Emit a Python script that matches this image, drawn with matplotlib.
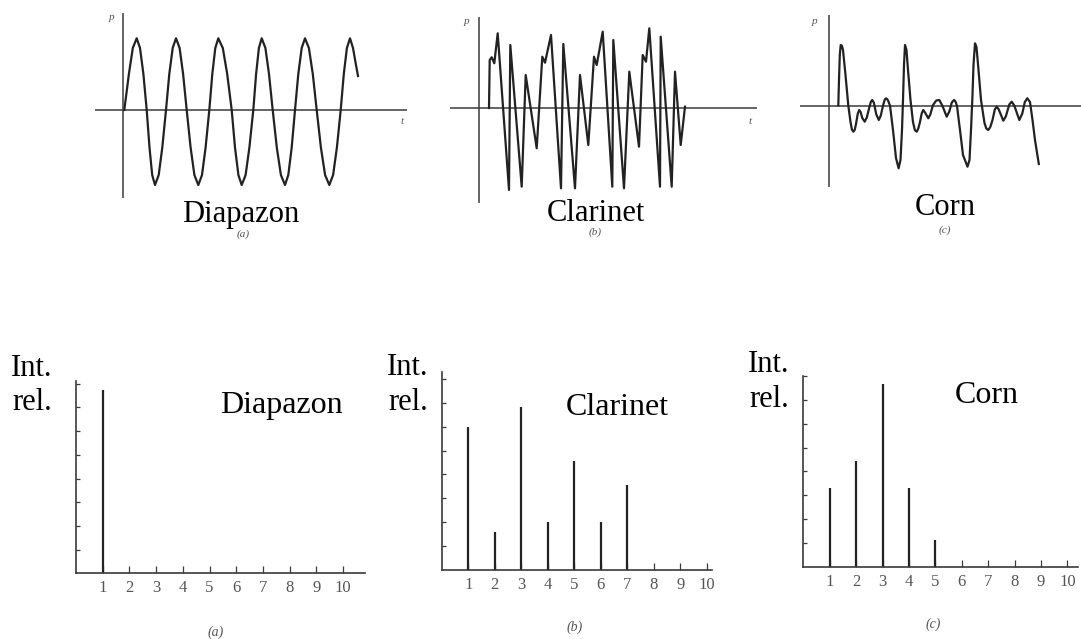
# -*- coding: utf-8 -*-
import matplotlib
matplotlib.use('Agg')
import matplotlib.pyplot as plt

# ---- waveforms (t, p in arbitrary units) ----
diap_t = [0.1, 0.56, 0.95, 1.34, 1.67, 2.01, 2.34, 2.62, 2.89, 3.17, 3.54, 3.9, 4.27,
          4.6, 4.94, 5.27, 5.63, 5.98, 6.34, 6.73, 7.11, 7.5, 7.87, 8.23, 8.6,
          8.9, 9.2, 9.5, 9.95, 10.39, 10.84, 11.17, 11.51, 11.84, 12.23, 12.61, 13.0,
          13.28, 13.56, 13.84, 14.21, 14.57, 14.94, 15.35, 15.76, 16.17, 16.5, 16.84, 17.17,
          17.5, 17.84, 18.17, 18.56, 18.95, 19.34, 19.76, 20.18, 20.6, 20.98, 21.36, 21.74,
          22.05, 22.36, 22.67, 22.97, 23.25, 23.47]
diap_p = [0, 3.6, 6.2, 7.17, 6.2, 3.6, 0, -3.75, -6.5, -7.5, -6.5, -3.75, 0,
          3.6, 6.2, 7.17, 6.2, 3.6, 0, -3.75, -6.5, -7.5, -6.5, -3.75, 0,
          3.6, 6.2, 7.17, 6.2, 3.6, 0, -3.75, -6.5, -7.5, -6.5, -3.75, 0,
          3.6, 6.2, 7.17, 6.2, 3.6, 0, -3.75, -6.5, -7.5, -6.5, -3.75, 0,
          3.6, 6.2, 7.17, 6.2, 3.6, 0, -3.75, -6.5, -7.5, -6.5, -3.75, 0,
          3.6, 6.2, 7.17, 6.2, 4.6, 3.4]

clar_t = [1.05, 1.12, 1.32, 1.58, 1.92, 3.05, 3.18, 4.32, 4.72, 5.82, 6.38, 6.65,
          7.25, 8.25, 8.48, 9.65, 10.15, 10.98, 11.55, 11.82, 12.42, 13.38, 13.48,
          14.55, 15.08, 16.05, 16.42, 16.75, 17.08, 18.15, 18.22, 19.32, 19.65, 20.22, 20.65]
clar_p = [0, 4.8, 5.07, 4.47, 7.47, -8.2, 6.3, -7.87, 3.3, -4.03, 5.13, 4.53,
          7.3, -8.03, 6.4, -8.03, 3.3, -3.7, 5.13, 4.3, 7.63, -7.87, 6.8,
          -8.03, 3.63, -3.87, 5.3, 4.63, 7.97, -7.87, 7.13, -7.87, 3.63, -3.7, 0.13]

corn_t = [0.9, 0.97, 1.05, 1.14, 1.27, 1.37, 1.62, 1.9, 2.12, 2.26, 2.4, 2.54, 2.67,
          2.85, 2.99, 3.13, 3.3, 3.54, 3.75, 4.0, 4.15, 4.29, 4.45, 4.7, 4.95, 5.15,
          5.4, 5.55, 5.69, 5.85, 6.07, 6.37, 6.67, 6.93, 7.12, 7.27, 7.37, 7.47, 7.57,
          7.72, 7.87, 8.12, 8.37, 8.55, 8.74, 8.9, 9.07, 9.25, 9.4, 9.6, 9.9, 10.1,
          10.37, 10.7, 11.0, 11.3, 11.74, 12.0, 12.25, 12.47, 12.62, 12.77, 13.07, 13.37,
          13.82, 14.02, 14.17, 14.32, 14.42, 14.57, 14.72, 14.92, 15.17, 15.52, 15.7,
          15.9, 16.1, 16.32, 16.55, 16.74, 16.95, 17.4, 17.65, 18.0, 18.24, 18.5, 19.0,
          19.3, 19.55, 19.8, 20.07, 20.32, 20.57, 20.95]
corn_p = [0, 2.55, 5.05, 6.05, 5.95, 5.55, 3.05, 0, -1.65, -2.4, -2.62, -2.45, -1.85,
          -0.8, -0.45, -0.65, -1.25, -1.62, -1.2, -0.2, 0.35, 0.55, 0.3, -0.9, -1.45, -1.0,
          0.1, 0.6, 0.72, 0.55, 0, -2.45, -5.25, -6.28, -5.45, -2.45, 0.55, 4.05, 6.05,
          5.55, 3.55, 0.55, -1.65, -2.45, -2.62, -2.3, -1.65, -0.75, -0.45, -0.75, -1.28, -0.9,
          0.05, 0.5, 0.55, 0.0, -1.12, -0.6, 0.3, 0.55, 0.4, -0.05, -2.45, -4.95,
          -6.12, -5.45, -2.45, 1.05, 4.05, 6.22, 5.85, 3.55, 0.55, -1.75, -2.3,
          -2.45, -2.15, -1.45, -0.4, -0.12, -0.4, -1.52, -1.1, 0.1, 0.38, 0.0, -1.45,
          -0.8, 0.35, 0.72, 0.35, -1.45, -3.45, -5.85]

# ---- spectra: relative intensity of harmonics 1..10 ----
harmonics = [1, 2, 3, 4, 5, 6, 7, 8, 9, 10]
diap_int = [7.73, 0, 0, 0, 0, 0, 0, 0, 0, 0]
clar_int = [5.97, 1.58, 6.81, 2.0, 4.57, 2.0, 3.56, 0, 0, 0]
corn_int = [3.31, 4.45, 7.67, 3.31, 1.14, 0, 0, 0, 0, 0]
int_ticks = [1, 2, 3, 4, 5, 6, 7, 8]

names = ['Diapazon', 'Clarinet', 'Corn']
tags = ['(a)', '(b)', '(c)']

W, H = 1081, 639
plt.rcParams['font.family'] = ['Liberation Serif', 'DejaVu Serif']
fig = plt.figure(figsize=(W / 100, H / 100), dpi=100)
fig.patch.set_facecolor('white')

INK = '#222222'
AXC = '#3a3a3a'
SOFT = '#555555'


def box_axes(left, top, right, bottom):
    return fig.add_axes([left / W, 1 - bottom / H, (right - left) / W, (bottom - top) / H])


def ftext(x, y, s, **kw):
    fig.text(x / W, 1 - y / H, s, **kw)


# top row: pressure waveforms, 10 px per unit
PX = 10.0
wave_boxes = [(95, 13, 407, 198), (450, 17, 757, 203), (800, 15, 1081, 187)]
origins = [(123.3, 110), (478.5, 108), (829.3, 105.5)]
waves = [(diap_t, diap_p), (clar_t, clar_p), (corn_t, corn_p)]
for (l, tp, r, b), (ox, oy), (t, p) in zip(wave_boxes, origins, waves):
    ax = box_axes(l, tp, r, b)
    ax.set_xlim((l - ox) / PX, (r - ox) / PX)
    ax.set_ylim((oy - b) / PX, (oy - tp) / PX)
    ax.axis('off')
    ax.axhline(0, color=AXC, lw=1.1)
    ax.axvline(0, color=AXC, lw=1.1)
    ax.plot(t, p, color=INK, lw=1.6, solid_joinstyle='round')

ftext(241, 222, names[0], fontsize=22, ha='center', va='baseline')
ftext(596, 221, names[1], fontsize=22, ha='center', va='baseline')
ftext(945, 215, names[2], fontsize=22, ha='center', va='baseline')
for x, y, s in [(243, 234, tags[0]), (595, 232, tags[1]), (945, 230, tags[2])]:
    ftext(x, y, s, fontsize=8, style='italic', color=SOFT, ha='center', va='center')
for x, y in [(111, 18), (466, 22), (814, 21)]:
    ftext(x, y, 'p', fontsize=8, style='italic', color=SOFT, ha='center', va='center')
for x, y in [(402, 121), (750, 121)]:
    ftext(x, y, 't', fontsize=8, style='italic', color=SOFT, ha='center', va='center')

# bottom row: spectra
spec_boxes = [(76, 381, 365, 573.3), (441.7, 372, 712, 570), (803.3, 376, 1078, 566.7)]
spec_scale = [(26.7, 23.7), (26.5, 23.9), (26.4, 24.0)]
spectra = [diap_int, clar_int, corn_int]
for (l, tp, r, b), (sx, sy), vals in zip(spec_boxes, spec_scale, spectra):
    ax = box_axes(l, tp, r, b)
    ax.set_xlim(0, (r - l) / sx)
    ax.set_ylim(0, (b - tp) / sy)
    ax.set_facecolor('none')
    for s in ['top', 'right']:
        ax.spines[s].set_visible(False)
    for s in ['left', 'bottom']:
        ax.spines[s].set_color(AXC)
        ax.spines[s].set_linewidth(1.2)
    hx = [h for h, v in zip(harmonics, vals) if v > 0]
    hv = [v for v in vals if v > 0]
    ax.vlines(hx, 0, hv, color=INK, lw=1.6)
    ax.set_xticks(harmonics)
    ax.set_xticklabels([str(h) for h in harmonics], fontsize=12, color=SOFT)
    ax.set_yticks(int_ticks)
    ax.set_yticklabels([])
    ax.tick_params(axis='x', direction='in', length=5, width=0.9, color=AXC, pad=5)
    ax.tick_params(axis='y', direction='in', length=3, width=0.9, color=AXC)

ftext(32, 376, 'Int.', fontsize=22, ha='center', va='baseline')
ftext(32, 410, 'rel.', fontsize=22, ha='center', va='baseline')
ftext(408, 375, 'Int.', fontsize=22, ha='center', va='baseline')
ftext(408, 410, 'rel.', fontsize=22, ha='center', va='baseline')
ftext(769, 372, 'Int.', fontsize=22, ha='center', va='baseline')
ftext(769, 407, 'rel.', fontsize=22, ha='center', va='baseline')

ftext(281, 413, names[0], fontsize=23, ha='center', va='baseline')
ftext(617, 415, names[1], fontsize=23, ha='center', va='baseline')
ftext(987, 403, names[2], fontsize=23, ha='center', va='baseline')
for x, y, s in [(216, 632, tags[0]), (575, 627, tags[1]), (933, 624, tags[2])]:
    ftext(x, y, s, fontsize=10, style='italic', color=SOFT, ha='center', va='center')

plt.savefig('out.png', dpi=100, facecolor='white')
